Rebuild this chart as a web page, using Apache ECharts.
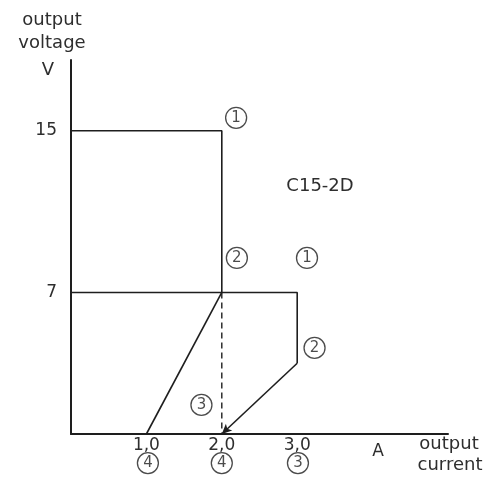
<!DOCTYPE html>
<html>
<head>
<meta charset="utf-8">
<script src="https://cdn.jsdelivr.net/npm/echarts@6/dist/echarts.min.js"></script>
<style>
  html, body { margin: 0; padding: 0; background: #ffffff; }
  #chart { width: 497px; height: 482px; }
</style>
</head>
<body>
<div id="chart"></div>
<script>
// Output characteristic of the C15-2D dual supply (current in A, voltage in V)
const currentTicks = [1, 2, 3];
const voltageTicks = [7, 15];

// 15 V output: constant voltage up to 2 A, then drops to the 7 V level
const supply15 = [[0, 15], [2, 15], [2, 7]];
// 7 V output: constant voltage up to 3 A, then current limiting
const supply7 = [[0, 7], [3, 7], [3, 3.5]];
// fold-back characteristic from (2 A, 7 V) down to 1 A short-circuit current
const foldback = [[2, 7], [1, 0]];
// dashed 2 A limit
const limit2A = [[2, 7], [2, 0]];
// current-limit slope ending in the arrow at 2 A
const limitSlope = [[3, 3.5], [2, 0]];

// circled operating-point numbers
const markerNums = ['1', '2', '1', '2', '3', '4', '4', '3'];
const markerX = [2.19, 2.2, 3.13, 3.23, 1.73, 1.02, 2.0, 3.01];
const markerY = [15.64, 8.71, 8.71, 4.26, 1.44, -1.44, -1.44, -1.44];

const INK = '#1e1e1e';
const TEXT = '#2e2e2e';
const FONT = 'DejaVu Sans';

const chart = echarts.init(document.getElementById('chart'), null, { renderer: 'canvas' });

const lineStyle = { color: INK, width: 1.6 };

function note(text, x, y, size) {
  return {
    type: 'text', x, y,
    style: { text, fontFamily: FONT, fontSize: size, fill: TEXT, align: 'center', verticalAlign: 'middle' }
  };
}

chart.setOption({
  backgroundColor: '#ffffff',
  animation: false,
  grid: { left: 71, top: 60, right: 49, bottom: 48 },
  xAxis: {
    type: 'value', min: 0, max: 5, interval: 1,
    axisLine: { show: true, lineStyle: { color: INK, width: 2 } },
    axisTick: { show: false },
    splitLine: { show: false },
    axisLabel: {
      margin: 3, color: TEXT, fontFamily: FONT, fontSize: 17,
      formatter: v => currentTicks.includes(v) ? v.toFixed(1).replace('.', ',') : ''
    }
  },
  yAxis: {
    type: 'value', min: 0, max: 18.5, interval: 1,
    axisLine: { show: true, onZero: false, lineStyle: { color: INK, width: 2 } },
    axisTick: { show: false },
    splitLine: { show: false },
    axisLabel: {
      margin: 14, color: TEXT, fontFamily: FONT, fontSize: 17,
      showMaxLabel: false,
      formatter: v => voltageTicks.includes(v) ? String(v) : ''
    }
  },
  series: [
    { type: 'line', data: supply15, symbol: 'none', lineStyle },
    { type: 'line', data: supply7, symbol: 'none', lineStyle },
    { type: 'line', data: foldback, symbol: 'none', lineStyle },
    { type: 'line', data: limit2A, symbol: 'none',
      lineStyle: { color: INK, width: 1.4, type: [6, 4] } },
    { type: 'line', data: [], symbol: 'none',
      markLine: {
        silent: true, symbolSize: [7, 10], label: { show: false },
        lineStyle: { color: INK, width: 1.6, type: 'solid' },
        data: [[
          { coord: limitSlope[0], symbol: 'none' },
          { coord: limitSlope[1], symbol: 'arrow' }
        ]]
      }
    },
    {
      type: 'scatter', clip: false, symbol: 'circle', symbolSize: 21,
      itemStyle: { color: 'rgba(255,255,255,0)', borderColor: INK, borderWidth: 1.3 },
      label: {
        show: true, position: 'inside', color: INK, fontFamily: FONT, fontSize: 15,
        formatter: p => markerNums[p.dataIndex]
      },
      data: markerX.map((x, i) => [x, markerY[i]])
    }
  ],
  graphic: [
    note('output', 52, 20, 18),
    note('voltage', 52, 43, 18),
    note('V', 48, 70, 18),
    note('C15-2D', 320, 186, 18),
    note('A', 378, 452, 17),
    note('output', 449, 444, 18),
    note('current', 450, 465, 18)
  ]
});
</script>
</body>
</html>
